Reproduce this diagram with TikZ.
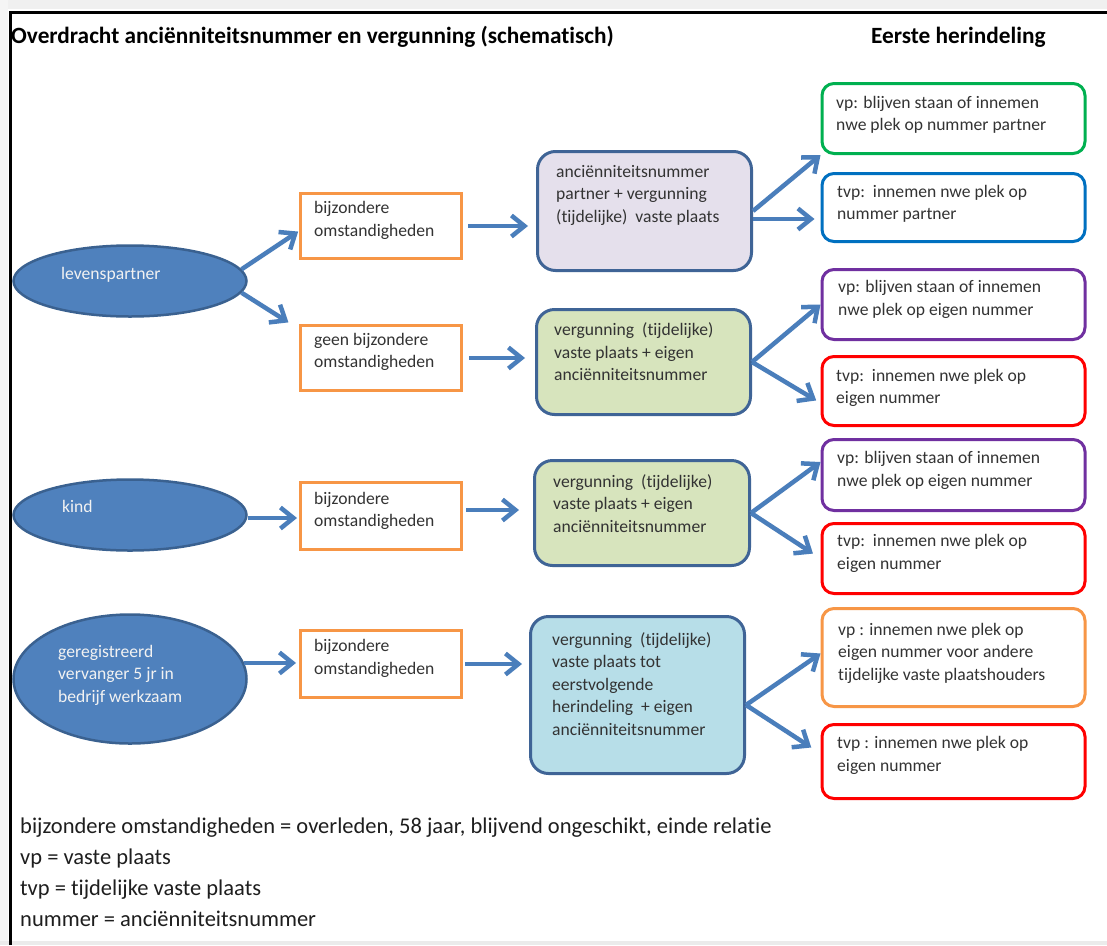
\documentclass[tikz,border=0pt]{standalone}
\usepackage{fontspec}
\setmainfont{Carlito}[Ligatures=CommonOff]
\usetikzlibrary{arrows.meta,shapes.geometric}
\definecolor{ellfill}{HTML}{4F81BD}
\definecolor{elldraw}{HTML}{3A6190}
\definecolor{arrowblue}{HTML}{4A7EBB}
\definecolor{orangeb}{HTML}{F79646}
\definecolor{mdraw}{HTML}{3F6496}
\definecolor{lavender}{HTML}{E5E0EC}
\definecolor{olivefill}{HTML}{D7E4BD}
\definecolor{aquafill}{HTML}{B7DEE8}
\definecolor{greenb}{HTML}{00B050}
\definecolor{blueb}{HTML}{0070C0}
\definecolor{purpleb}{HTML}{7030A0}
\definecolor{redb}{HTML}{FF0000}
\definecolor{boxtext}{HTML}{333333}
\definecolor{foottext}{HTML}{1E1E1E}
\begin{document}
\begin{tikzpicture}[x=1pt,y=-1pt,
  ell/.style={ellipse, draw=elldraw, fill=ellfill, line width=2.5pt, inner sep=0pt},
  obox/.style={draw=orangeb, fill=white, line width=3pt, inner sep=0pt},
  mbox/.style={draw=mdraw, line width=3pt, rounded corners=18pt, inner sep=0pt},
  rbox/.style={draw=#1, fill=white, line width=3pt, rounded corners=12pt, inner sep=0pt, minimum width=263, anchor=west},
  btext/.style={anchor=west, align=left, inner sep=0pt, text=boxtext,
    font=\fontsize{17.6}{22.5}\selectfont,
    execute at begin node=\strut, execute at end node=\strut},
  etext/.style={btext, text=white!95!black},
  conn/.style={draw=arrowblue, line width=4.5pt, -{Straight Barb[length=13pt,width=21pt,line width=4.5pt]}},
  head/.style={anchor=west, inner sep=0pt, font=\fontsize{23.3}{28}\selectfont\bfseries}
]
\useasboundingbox (0,0) rectangle (1107,945);
\fill[white] (0,0) rectangle (1107,945);
\fill[black!6] (0,0) rectangle (1107,9);
\fill[black!4] (0,0) rectangle (8,945);
\fill[black!8] (0,941) rectangle (1107,945);
\draw[black, line width=3pt] (10,945) -- (10,12) -- (1107,12);

% headings
\node[head] (title) at (11,37) {Overdracht anciënniteitsnummer en vergunning (schematisch)};
\node[head] (title2) at (871,37) {Eerste herindeling};

% ellipses
\node[ell, minimum width=233, minimum height=71] (lev) at (130,281) {};
\node[ell, minimum width=233, minimum height=71] (kind) at (130,515) {};
\node[ell, minimum width=233, minimum height=129] (ger) at (130,679) {};
\node[etext] (tlev) at (61,275) {levenspartner};
\node[etext] (tkind) at (62,508) {kind};
\node[etext] (tger) at (58,677) {geregistreerd\\vervanger 5 jr in\\bedrijf werkzaam};

% orange boxes
\node[obox, minimum width=161, minimum height=65] (B1) at (381,226) {};
\node[obox, minimum width=161, minimum height=65] (B2) at (381,358) {};
\node[obox, minimum width=161, minimum height=67] (B3) at (381,516) {};
\node[obox, minimum width=161, minimum height=67] (B4) at (381,664) {};
\node[btext] (tB1) at (314,222.5) {bijzondere\\omstandigheden};
\node[btext] (tB2) at (314,354) {geen bijzondere\\omstandigheden};
\node[btext] (tB3) at (314,513) {bijzondere\\omstandigheden};
\node[btext] (tB4) at (314,660.5) {bijzondere\\omstandigheden};

% middle boxes
\node[mbox, fill=lavender, minimum width=214, minimum height=119] (M1) at (644.5,211) {};
\node[mbox, fill=olivefill, minimum width=214, minimum height=105] (M2) at (643.5,362) {};
\node[mbox, fill=olivefill, minimum width=215, minimum height=105] (M3) at (642,513) {};
\node[mbox, fill=aquafill, minimum width=214, minimum height=157] (M4) at (637.5,695) {};
\node[btext] (tM1) at (556,197) {anciënniteitsnummer\\partner + vergunning\\(tijdelijke)\ \ vaste plaats};
\node[btext] (tM2) at (554,355) {vergunning\ \ (tijdelijke)\\vaste plaats + eigen\\anciënniteitsnummer};
\node[btext] (tM3) at (553,506.5) {vergunning\ \ (tijdelijke)\\vaste plaats + eigen\\anciënniteitsnummer};
\node[btext] (tM4) at (552,687) {vergunning\ \ (tijdelijke)\\vaste plaats tot\\eerstvolgende\\herindeling\ \ + eigen\\anciënniteitsnummer};

% right boxes
\node[rbox=greenb, minimum height=70] (R1) at (820.5,118.5) {};
\node[rbox=blueb, minimum height=68] (R2) at (820.5,207.5) {};
\node[rbox=purpleb, minimum height=70] (R3) at (820.5,304.5) {};
\node[rbox=redb, minimum height=69] (R4) at (820.5,391) {};
\node[rbox=purpleb, minimum height=71] (R5) at (820.5,475) {};
\node[rbox=redb, minimum height=70] (R6) at (820.5,558.5) {};
\node[rbox=orangeb, minimum height=98] (R7) at (820.5,657.5) {};
\node[rbox=redb, minimum height=74] (R8) at (820.5,761.5) {};
\node[btext] (tR1) at (836,117) {vp: blijven staan of innemen\\nwe plek op nummer partner};
\node[btext] (tR2) at (837,206) {tvp:\ \ innemen nwe plek op\\nummer partner};
\node[btext] (tR3) at (838,301.5) {vp: blijven staan of innemen\\nwe plek op eigen nummer};
\node[btext] (tR4) at (836,390) {tvp:\ \ innemen nwe plek op\\eigen nummer};
\node[btext] (tR5) at (837,472.5) {vp: blijven staan of innemen\\nwe plek op eigen nummer};
\node[btext] (tR6) at (837,555.5) {tvp:\ \ innemen nwe plek op\\eigen nummer};
\node[btext] (tR7) at (838,655) {vp : innemen nwe plek op\\eigen nummer voor andere\\tijdelijke vaste plaatshouders};
\node[btext] (tR8) at (837,757.5) {tvp : innemen nwe plek op\\eigen nummer};

% footer
\node[anchor=west, align=left, inner sep=0pt, text=foottext,
  font=\fontsize{22.5}{31}\selectfont,
  execute at begin node=\strut, execute at end node=\strut] (foot) at (20,877)
  {bijzondere omstandigheden = overleden, 58 jaar, blijvend ongeschikt, einde relatie\\
   vp = vaste plaats\\tvp = tijdelijke vaste plaats\\nummer = anciënniteitsnummer};

% connectors
\draw[conn, shorten >=1pt] (lev.6) -- ([yshift=-5pt]B1.west);
\draw[conn, shorten >=3pt] (lev.-6) -- ([xshift=-8pt]B2.north west);
\draw[conn, shorten <=5pt, shorten >=8pt] (B1.east) -- (B1.east -| M1.west);
\draw[conn, shorten <=6pt, shorten >=10pt] (B2.east) -- (B2.east -| M2.west);
\draw[conn, shorten >=2pt] ([yshift=-3pt]kind.east) -- ([yshift=-3pt]kind.east -| B3.west);
\draw[conn, shorten <=3pt, shorten >=14pt] ([yshift=6pt]B3.east) -- ([yshift=6pt]B3.east -| M3.west);
\draw[conn, shorten >=3pt] (ger.8) -- (ger.8 -| B4.west);
\draw[conn, shorten <=2pt, shorten >=7pt] (B4.east) -- (B4.east -| M4.west);
\draw[conn] (M1.east) -- (R1.south west);
\draw[conn, shorten >=6pt] ([yshift=-8pt]M1.east) -- ([yshift=-8pt]M1.east -| R2.west);
\draw[conn] (M2.east) -- (R3.west);
\draw[conn, shorten >=5pt] (M2.east) -- ([yshift=-12pt]R4.west);
\draw[conn] (M3.east) -- ([yshift=13pt]R5.west);
\draw[conn, shorten >=9pt] (M3.east) -- (R6.west);
\draw[conn] ([yshift=-10pt]M4.east) -- ([yshift=4pt]R7.west);
\draw[conn, shorten >=11pt] ([yshift=-10pt]M4.east) -- ([yshift=8pt]R8.west);
\end{tikzpicture}
\end{document}
